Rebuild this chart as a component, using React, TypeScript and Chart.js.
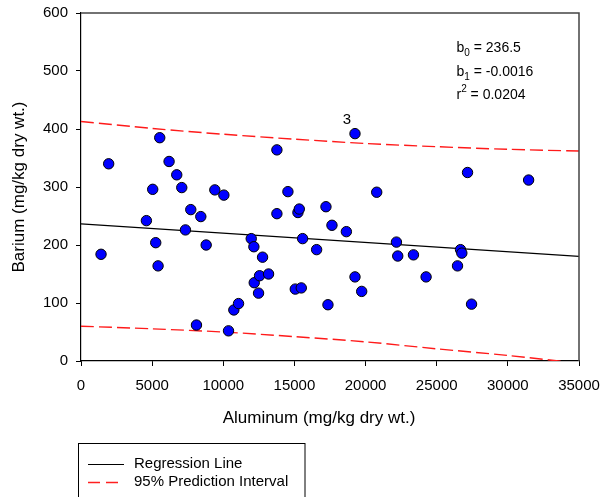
import React, { useEffect, useRef } from "react";
import { Chart, registerables } from "chart.js";

Chart.register(...registerables);

// Aluminum (mg/kg dry wt.) for each sample
const aluminum = [
  1408, 1945, 4596, 5040, 5252, 5417, 5534, 6190, 6729, 7082,
  7341, 7716, 8115, 8420, 8797, 9405, 10040, 10367, 10742, 11072,
  11964, 12150, 12175, 12478, 12548, 12760, 13182, 13768, 13768, 14542,
  15060, 15247, 15341, 15482, 15575, 16560, 17215, 17356, 17637, 18650,
  19256, 19256, 19727, 20783, 22169, 22261, 23366, 24253, 26462, 26673,
  26765, 27166, 27448, 31459,
];
// Barium (mg/kg dry wt.) for each sample
const barium = [
  184, 340, 242, 296, 204, 164, 385, 344, 321, 299,
  226, 261, 62, 249, 200, 295, 286, 52, 88, 99,
  211, 197, 135, 117, 147, 179, 150, 254, 364, 292,
  124, 256, 262, 126, 211, 192, 266, 97, 234, 223,
  392, 145, 120, 291, 205, 181, 183, 145, 164, 192,
  186, 325, 98, 312,
];

const regX = [0, 35000];
const regY = [236.5, 180.5];

const piX = [0, 5000, 10000, 15000, 20000, 25000, 30000, 35000];
const piUpper = [413, 401, 391, 382.5, 375, 369.5, 365, 362];
const piLower = [60, 55.5, 50, 42, 33, 21, 9.5, -4];

const xTicks = [0, 5000, 10000, 15000, 20000, 25000, 30000, 35000];
const yTicks = [0, 100, 200, 300, 400, 500, 600];

const labelledPoint = { x: 19256, y: 392, text: "3" };
const stats = [
  { base: "b", sub: "0", sup: "", rest: " = 236.5" },
  { base: "b", sub: "1", sup: "", rest: " = -0.0016" },
  { base: "r", sub: "", sup: "2", rest: " = 0.0204" },
];

const xTitle = "Aluminum (mg/kg dry wt.)";
const yTitle = "Barium (mg/kg dry wt.)";
const legendItems = ["Regression Line", "95% Prediction Interval"];

const FONT = '"Liberation Sans", Arial, sans-serif';

const overlay = {
  id: "overlay",
  afterDraw(chart: any) {
    const ctx = chart.ctx as CanvasRenderingContext2D;
    const { left, right, top, bottom } = chart.chartArea;
    const xs = chart.scales.x;
    const ys = chart.scales.y;
    ctx.save();
    // frame top & right
    ctx.strokeStyle = "#444";
    ctx.lineWidth = 1.5;
    ctx.beginPath();
    ctx.moveTo(left, top);
    ctx.lineTo(right, top);
    ctx.lineTo(right, bottom);
    ctx.stroke();

    ctx.fillStyle = "#000";
    // axis titles
    ctx.font = `17px ${FONT}`;
    ctx.textAlign = "center";
    ctx.textBaseline = "middle";
    ctx.fillText(xTitle, 319, 418);
    ctx.save();
    ctx.translate(19, (top + bottom) / 2);
    ctx.rotate(-Math.PI / 2);
    ctx.fillText(yTitle, 0, 0);
    ctx.restore();

    // point label
    ctx.font = `15px ${FONT}`;
    ctx.fillText(
      labelledPoint.text,
      xs.getPixelForValue(labelledPoint.x) - 8,
      ys.getPixelForValue(labelledPoint.y) - 14
    );

    // stats text
    ctx.textAlign = "left";
    ctx.textBaseline = "alphabetic";
    const baselines = [52, 75.5, 99];
    stats.forEach((s, i) => {
      let x = 456.5;
      const y = baselines[i];
      ctx.font = `14px ${FONT}`;
      ctx.fillText(s.base, x, y);
      x += ctx.measureText(s.base).width;
      if (s.sub) {
        ctx.font = `10px ${FONT}`;
        ctx.fillText(s.sub, x, y + 4);
        x += ctx.measureText(s.sub).width;
      }
      if (s.sup) {
        ctx.font = `10px ${FONT}`;
        ctx.fillText(s.sup, x, y - 7);
        x += ctx.measureText(s.sup).width;
      }
      ctx.font = `14px ${FONT}`;
      ctx.fillText(s.rest, x, y);
    });

    // legend
    ctx.strokeStyle = "#000";
    ctx.lineWidth = 1;
    ctx.strokeRect(78.5, 443.5, 226.5, 70);
    ctx.beginPath();
    ctx.moveTo(88, 464.5);
    ctx.lineTo(124, 464.5);
    ctx.stroke();
    ctx.strokeStyle = "#ff2020";
    ctx.lineWidth = 1.5;
    ctx.setLineDash([12, 6]);
    ctx.beginPath();
    ctx.moveTo(88, 482.5);
    ctx.lineTo(124, 482.5);
    ctx.stroke();
    ctx.setLineDash([]);
    ctx.font = `15px ${FONT}`;
    ctx.textBaseline = "middle";
    ctx.fillStyle = "#000";
    ctx.fillText(legendItems[0], 134, 464);
    ctx.fillText(legendItems[1], 134, 482);
    ctx.restore();
  },
};

export default function App() {
  const ref = useRef<HTMLCanvasElement | null>(null);
  useEffect(() => {
    if (!ref.current) return;
    const chart = new Chart(ref.current, {
      type: "scatter",
      data: {
        datasets: [
          {
            label: "Barium",
            data: aluminum.map((x, i) => ({ x, y: barium[i] })),
            backgroundColor: "#0000ff",
            borderColor: "#000",
            borderWidth: 1,
            pointRadius: 5.2,
            showLine: false,
          },
          {
            label: legendItems[0],
            data: regX.map((x, i) => ({ x, y: regY[i] })),
            showLine: true,
            borderColor: "#000",
            borderWidth: 1.2,
            pointRadius: 0,
          },
          {
            label: "upper",
            data: piX.map((x, i) => ({ x, y: piUpper[i] })),
            showLine: true,
            borderColor: "#ff1a1a",
            borderWidth: 1.4,
            borderDash: [13, 5],
            pointRadius: 0,
            tension: 0.3,
          },
          {
            label: "lower",
            data: piX.map((x, i) => ({ x, y: piLower[i] })),
            showLine: true,
            borderColor: "#ff1a1a",
            borderWidth: 1.4,
            borderDash: [13, 5],
            pointRadius: 0,
            tension: 0.3,
          },
        ],
      },
      options: {
        animation: false,
        responsive: false,
        layout: { padding: { top: 13, right: 26, left: 0, bottom: 0 } },
        plugins: { legend: { display: false }, tooltip: { enabled: false } },
        scales: {
          x: {
            type: "linear",
            min: 0,
            max: 35000,
            afterFit: (s: any) => {
              s.height = 136;
              s.paddingLeft = 0;
              s.paddingRight = 0;
            },
            afterBuildTicks: (s: any) => {
              s.ticks = xTicks.map((v) => ({ value: v }));
            },
            ticks: {
              color: "#000",
              font: { family: FONT, size: 15 },
              padding: 11,
              maxRotation: 0,
              autoSkip: false,
              callback: (v: any) => String(v),
            },
            grid: { drawOnChartArea: false, drawTicks: true, tickLength: 5, color: "#000" },
            border: { display: true, color: "#000", width: 1.2 },
          },
          y: {
            type: "linear",
            min: 0,
            max: 600,
            afterFit: (s: any) => {
              s.width = 81;
              s.paddingTop = 0;
              s.paddingBottom = 0;
            },
            afterBuildTicks: (s: any) => {
              s.ticks = yTicks.map((v) => ({ value: v }));
            },
            ticks: {
              color: "#000",
              font: { family: FONT, size: 15 },
              padding: 8,
              autoSkip: false,
              callback: (v: any) => String(v),
            },
            grid: { drawOnChartArea: false, drawTicks: true, tickLength: 5, color: "#000" },
            border: { display: true, color: "#000", width: 1.2 },
          },
        },
      },
      plugins: [overlay],
    });
    return () => chart.destroy();
  }, []);
  return (
    <div style={{ position: "absolute", left: 0, top: 0, width: 605, height: 497, background: "#fff" }}>
      <canvas ref={ref} width={605} height={497} style={{ width: 605, height: 497, display: "block" }} />
    </div>
  );
}
